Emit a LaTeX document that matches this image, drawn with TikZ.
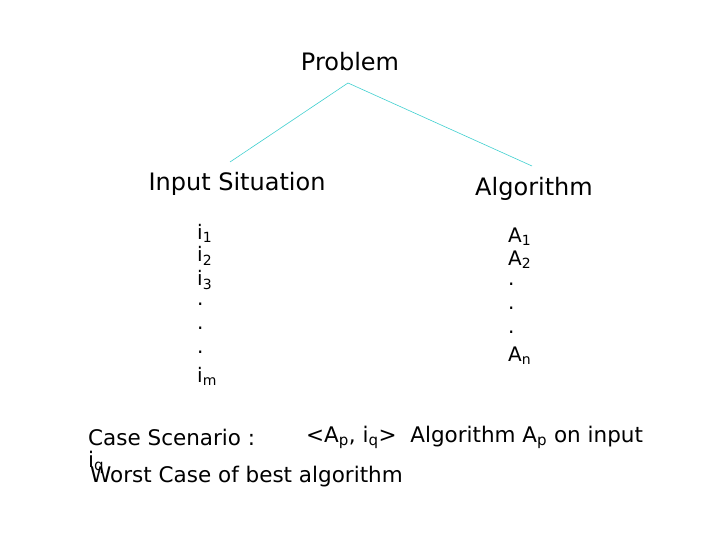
\documentclass[tikz,border=0pt]{standalone}
\usepackage{fontspec}
\setmainfont{DejaVu Sans}
\definecolor{linecyan}{RGB}{64,208,208}
\begin{document}
\begin{tikzpicture}[x=1pt,y=-1pt,font=\fontsize{20}{24}\selectfont]
                \useasboundingbox[fill=white] (0,0) rectangle (720,540);
                \tikzset{head/.style={font=\fontsize{24}{28}\selectfont},
                         item/.style={anchor=west,inner sep=0pt},
                         low/.style={item,font=\fontsize{21.5}{24}\selectfont},
                         link/.style={linecyan,line width=0.6pt}}
                \node[head] (problem) at (350,62) {Problem};
                \node[head] (input) at (237,184) {Input Situation};
                \node[head] (algo) at (534,189) {Algorithm};
                \coordinate (top) at (348,83);
                \coordinate (inTop) at (230,162);
                \coordinate (alTop) at (532,166);
                \draw[link] (top)--(inTop);
                \draw[link] (top)--(alTop);
                % input list
                \node[item] (i1) at (197,233) {i\textsubscript{1}};
                \node[item] (i2) at (197,256) {i\textsubscript{2}};
                \node[item] (i3) at (197,280) {i\textsubscript{3}};
                \node[item] (d1) at (197,304) {.};
                \node[item] (d2) at (197,328) {.};
                \node[item] (d3) at (197,352) {.};
                \node[item] (im) at (197,376) {i\textsubscript{m}};
                % algorithm list
                \node[item] (a1) at (508,237) {A\textsubscript{1}};
                \node[item] (a2) at (508,260) {A\textsubscript{2}};
                \node[item] (e1) at (508,284) {.};
                \node[item] (e2) at (508,308) {.};
                \node[item] (e3) at (508,332) {.};
                \node[item] (an) at (508,356) {A\textsubscript{n}};
                % bottom lines
                \node[low] (case) at (88,437) {Case Scenario :};
                \node[low] (pair) at (306,437) {<A\textsubscript{p}, i\textsubscript{q}>\ \ Algorithm A\textsubscript{p} on input};
                \node[low] (iq) at (88,462) {i\textsubscript{q}};
                \node[low] (worst) at (90,477) {Worst Case of best algorithm};
            \end{tikzpicture}
\end{document}
